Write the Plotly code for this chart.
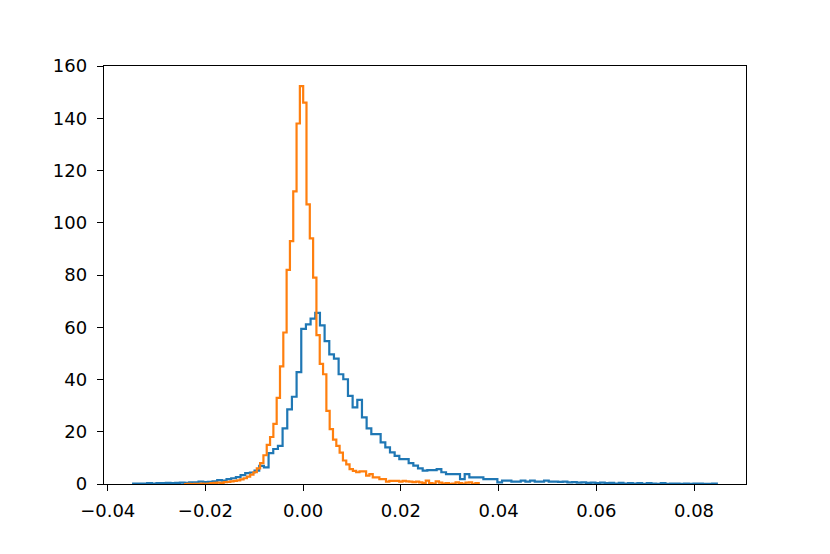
import numpy as np
import plotly.graph_objects as go

# density-normalised step histograms, values read per bin from the reference
blue_range = [-0.03479, 0.08467]
blue_counts = [
    0.2, 0.2, 0.2, 0.3, 0.2, 0.3, 0.3, 0.4, 0.3, 0.4,
    0.5, 0.4, 0.6, 0.6, 0.9, 0.7, 0.8, 1.0, 1.5, 1.3,
    1.9, 2.2, 2.6, 3.4, 4.2, 4.4, 5.1, 6.9, 6.4, 11.8,
    13.4, 14.6, 21.3, 28.6, 33.4, 42.8,
    59.4, 61.1, 63.3, 65.5, 60.7, 54.7, 49.6, 48.0, 42.0, 40.1,
    33.7, 29.3, 32.2, 25.5, 21.3, 19.1, 19.1, 15.9, 14.0, 12.1,
    10.8, 9.5, 9.5, 8.0, 7.0, 6.0, 5.1, 5.3, 5.3, 5.7,
    4.5, 3.8, 3.8, 3.8, 1.9, 3.8, 2.5, 2.5, 2.5, 1.9, 1.9, 1.9, 0.6,
    1.3, 1.3, 0.9, 0.9, 1.3, 0.9, 1.3, 0.9, 0.9, 1.3, 0.9, 0.9,
    0.8, 0.9, 0.6, 0.7, 0.5, 0.6, 0.4, 0.5, 0.3, 0.5,
    0.3, 0.4, 0.2, 0.4, 0.2, 0.3, 0.2, 0.3, 0.1, 0.3,
    0.2, 0.1, 0.3, 0.1, 0.2, 0.2, 0.1, 0.2, 0.1, 0.2,
    0.2, 0.1, 0.1, 0.2,
]

orange_range = [-0.0244, 0.03594]
orange_counts = [
    0.0, 0.1, 0.0, 0.1, 0.1, 0.2, 0.1, 0.2, 0.3, 0.4,
    0.5, 0.4, 0.7, 0.8, 1.0, 1.2, 1.4, 1.8, 2.2, 2.8,
    3.6, 4.5, 6.0, 8.0, 11.0, 15.0, 18.0, 23.0, 33.0, 45.0,
    58.0, 82.0, 93.0, 112.0, 138.0, 152.3, 146.0, 107.0, 94.0, 79.0,
    57.0, 46.0, 42.0, 28.0, 21.0, 17.0, 14.6, 12.0, 9.0, 7.5,
    5.7, 5.0, 4.5, 4.8, 4.8, 3.2, 3.8, 2.5, 2.5, 1.9,
    1.9, 0.9, 1.2, 1.2, 1.2, 0.9, 1.2, 1.0, 0.9, 0.7,
    0.9, 0.6, 0.3, 1.3, 0.3, 0.2, 1.0, 0.5, 0.2, 0.3,
    0.1, 0.2, 0.6, 0.3, 0.1, 0.5, 0.6, 0.1, 0.3,
]

x_ticks = [-0.04, -0.02, 0.00, 0.02, 0.04, 0.06, 0.08]
x_labels = ['\u22120.04', '\u22120.02', '0.00', '0.02', '0.04', '0.06', '0.08']
y_ticks = [0, 20, 40, 60, 80, 100, 120, 140, 160]


def step_trace(counts, rng, color):
    # matplotlib histtype='step' outline: up from 0, across each bin, back to 0
    edges = np.linspace(rng[0], rng[1], len(counts) + 1)
    xs = np.concatenate([[edges[0]], edges])
    ys = np.concatenate([[0], counts, [0]])
    return go.Scatter(x=xs, y=ys, mode='lines', line_shape='hv',
                      line=dict(color=color, width=2.2),
                      hoverinfo='skip', showlegend=False)


fig = go.Figure()
fig.add_trace(step_trace(blue_counts, blue_range, '#1f77b4'))
fig.add_trace(step_trace(orange_counts, orange_range, '#ff7f0e'))

axis_style = dict(
    showline=True, mirror=True, linecolor='black', linewidth=1.4,
    ticks='outside', ticklen=6, tickwidth=1.4, tickcolor='black',
    showgrid=False, zeroline=False,
    tickfont=dict(family='DejaVu Sans', size=18, color='black'),
)

fig.update_xaxes(range=[-0.04076, 0.09064], tickvals=x_ticks, ticktext=x_labels,
                 ticklabelstandoff=4, **axis_style)
fig.update_yaxes(range=[0, 160], tickvals=y_ticks, ticklabelstandoff=6, **axis_style)

# page body adds ~8px offset, so margins are shifted up/left by that much
fig.update_layout(
    width=830, height=554,
    margin=dict(l=96, r=92, t=58, b=78),
    plot_bgcolor='white', paper_bgcolor='white',
)

fig.write_html("out.html")
